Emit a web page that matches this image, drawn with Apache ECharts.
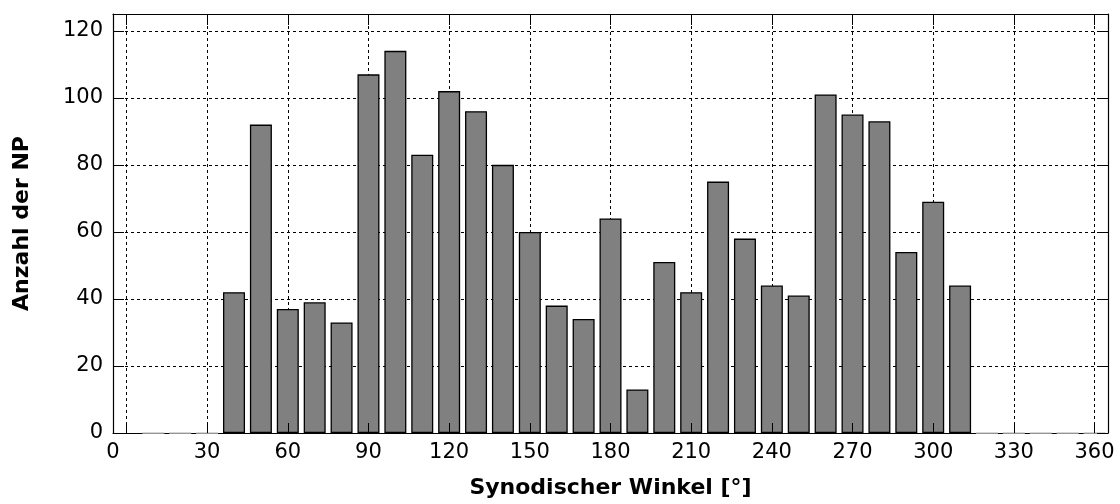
<!DOCTYPE html>
<html>
<head>
<meta charset="utf-8">
<script src="https://cdn.jsdelivr.net/npm/echarts@6/dist/echarts.min.js"></script>
<style>html,body{margin:0;padding:0;background:#fff}#c{width:1120px;height:504px}</style>
</head>
<body>
<div id="c"></div>
<script>
const angles = [10,20,30,40,50,60,70,80,90,100,110,120,130,140,150,160,170,180,190,200,210,220,230,240,250,260,270,280,290,300,310,320,330,340,350,360];
const counts = [0,0,0,42,92,37,39,33,107,114,83,102,96,80,60,38,34,64,13,51,42,75,58,44,41,101,95,93,54,69,44,0,0,0,0,0];
const xTicks = [0,30,60,90,120,150,180,210,240,270,300,330,360];
const xLabelPos = [-5,30,60,90,120,150,180,210,240,270,300,330,360];
const xLabels = ['0','30','60','90','120','150','180','210','240','270','300','330','360'];
const yTicks = [0,20,40,60,80,100,120];

const FONT = 'DejaVu Sans';
const data = angles.map((a,i)=>({
  value:[a,counts[i]],
  itemStyle: counts[i]===0 ? {borderColor:'#c8c8c8'} : undefined
}));
const xLabelMap = {};
xLabelPos.forEach((p,i)=>xLabelMap[p]=xLabels[i]);

const grid = {left:113,right:12,top:14,bottom:71};
const gridStyle = {show:true,lineStyle:{color:'#000',width:1,type:[3,3]}};

const chart = echarts.init(document.getElementById('c'),null,{renderer:'canvas'});
chart.setOption({
  animation:false,
  grid:grid,
  xAxis:[
    {type:'value',min:-5,max:365,position:'bottom',z:0,
     name:'Synodischer Winkel [°]',nameLocation:'middle',nameGap:44,
     nameTextStyle:{fontFamily:FONT,fontSize:22,fontWeight:'bold',color:'#000'},
     axisLine:{show:true,onZero:false,lineStyle:{color:'#000',width:1.2}},
     axisTick:{show:false,customValues:xTicks},
     axisLabel:{show:true,customValues:xLabelPos,margin:9,fontFamily:FONT,fontSize:21,color:'#000',
       formatter:v=>xLabelMap[v]!==undefined?xLabelMap[v]:''},
     splitLine:gridStyle},
    {type:'value',min:-5,max:365,position:'bottom',z:5,
     axisLine:{show:false,onZero:false},
     axisTick:{show:true,inside:true,length:10,customValues:xTicks,lineStyle:{color:'#000',width:1}},
     axisLabel:{show:false},splitLine:{show:false}},
    {type:'value',min:-5,max:365,position:'top',z:5,
     axisLine:{show:true,onZero:false,lineStyle:{color:'#000',width:1.2}},
     axisTick:{show:true,inside:true,length:11,customValues:xTicks,lineStyle:{color:'#000',width:1}},
     axisLabel:{show:false},splitLine:{show:false}}
  ],
  yAxis:[
    {type:'value',min:0,max:125,position:'left',z:0,
     name:'Anzahl der NP',nameLocation:'middle',nameGap:80,nameRotate:90,
     nameTextStyle:{fontFamily:FONT,fontSize:22,fontWeight:'bold',color:'#000'},
     axisLine:{show:true,onZero:false,lineStyle:{color:'#000',width:1.2}},
     axisTick:{show:false,customValues:yTicks},
     axisLabel:{show:true,customValues:yTicks,margin:10,fontFamily:FONT,fontSize:21,color:'#000'},
     splitLine:gridStyle},
    {type:'value',min:0,max:125,position:'left',z:5,
     axisLine:{show:false,onZero:false},
     axisTick:{show:true,inside:true,length:11,customValues:yTicks,lineStyle:{color:'#000',width:1}},
     axisLabel:{show:false},splitLine:{show:false}},
    {type:'value',min:0,max:125,position:'right',z:5,
     axisLine:{show:true,onZero:false,lineStyle:{color:'#000',width:1.2}},
     axisTick:{show:true,inside:true,length:11,customValues:yTicks,lineStyle:{color:'#000',width:1}},
     axisLabel:{show:false},splitLine:{show:false}}
  ],
  series:[{
    type:'bar',xAxisIndex:0,yAxisIndex:0,barWidth:22,z:2,
    itemStyle:{color:'#808080',borderColor:'#000',borderWidth:1.3},
    data:data
  }]
});
</script>
</body>
</html>
